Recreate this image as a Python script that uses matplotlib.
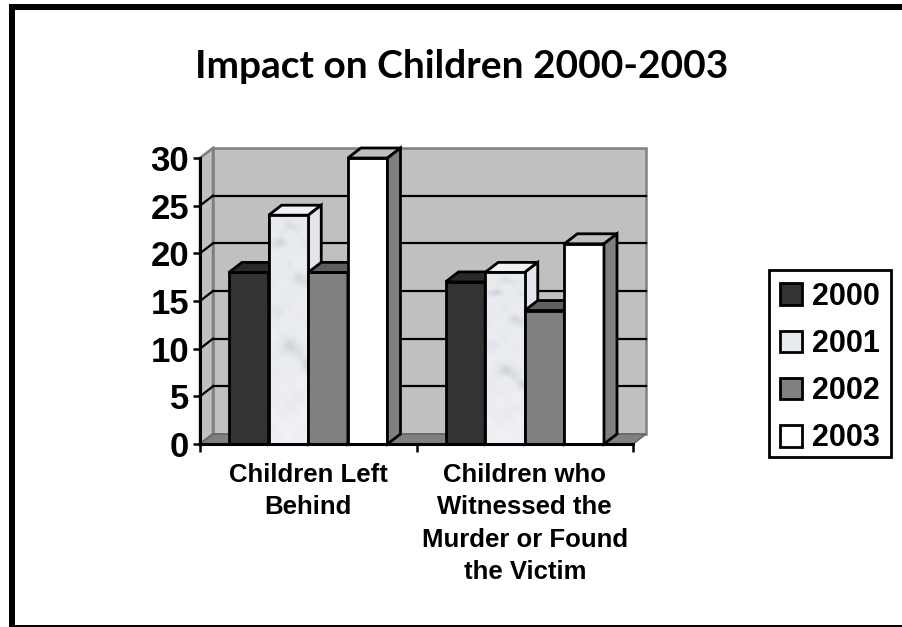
import matplotlib
matplotlib.use("Agg")
import matplotlib.pyplot as plt
from matplotlib.patches import Polygon, Rectangle, Patch
from matplotlib.colors import LinearSegmentedColormap
import numpy as np

# values
categories = ["Children Left\nBehind", "Children who\nWitnessed the\nMurder or Found\nthe Victim"]
years = ["2000", "2001", "2002", "2003"]
v2000 = [18, 17]
v2001 = [24, 18]
v2002 = [18, 14]
v2003 = [30, 21]
series = [v2000, v2001, v2002, v2003]
yticks = [0, 5, 10, 15, 20, 25, 30]

# front, top, side colours per series
fronts = ["#333333", "#E8EBEF", "#808080", "#FFFFFF"]
tops = ["#2A2A2A", "#F1F1F6", "#5F5F5F", "#C0C0C0"]
sides = ["#262626", "#E4E6EC", "#666666", "#808080"]

W, H = 902, 627
bar_w = 0.183
dx = 13 / 216.5   # depth of the fake 3d, in data units
dy = 10 / 9.53
EDGE = 2.0

plt.rcParams["font.family"] = ["Liberation Sans", "DejaVu Sans"]
plt.rcParams["font.weight"] = "bold"

fig = plt.figure(figsize=(W / 100, H / 100), dpi=100, facecolor="white")
ax = fig.add_axes([200 / W, (H - 444) / H, 433 / W, 286 / H])
ax.set_facecolor("none")

# page frame, open on the right
for x, y, w, h in [(9, 4, 6, 623), (9, 4, 893, 6), (9, 625, 893, 2)]:
    fig.add_artist(Rectangle((x / W, 1 - (y + h) / H), w / W, h / H, transform=fig.transFigure,
                             facecolor="black", edgecolor="none"))

x0, x1 = -0.5, 1.5
top = max(yticks)

# walls and floor
ax.add_patch(Polygon([(x0 + dx, dy), (x1 + dx, dy), (x1 + dx, top + dy), (x0 + dx, top + dy)],
                     facecolor="#C0C0C0", edgecolor="#808080", lw=1.8, zorder=1, clip_on=False))
ax.add_patch(Polygon([(x0, 0), (x0 + dx, dy), (x0 + dx, top + dy), (x0, top)],
                     facecolor="#C0C0C0", edgecolor="#808080", lw=1.8, zorder=1, clip_on=False))
ax.add_patch(Polygon([(x0, 0), (x1, 0), (x1 + dx, dy), (x0 + dx, dy)],
                     facecolor="#808080", edgecolor="#666666", lw=1.2, zorder=1, clip_on=False))
for v in yticks[1:-1]:
    ax.plot([x0 + dx, x1 + dx], [v + dy, v + dy], color="black", lw=1.6, zorder=2, clip_on=False)
    ax.plot([x0, x0 + dx], [v, v + dy], color="black", lw=1.6, zorder=2, clip_on=False)
ax.plot([x0, x0 + dx], [top, top + dy], color="#808080", lw=1.6, zorder=2, clip_on=False)

# soft mottled fill for the 2001 bars, a few grey clouds on a pale ground
marble = LinearSegmentedColormap.from_list("marble", ["#A8ACB2", "#D0D4D9", "#E7EAEE", "#F2F1F6"])
gy, gx = np.mgrid[0:1:200j, 0:1:40j]
mottle = 0.66 + 0.07 * np.sin(gx * 8 + 1) * np.sin(gy * 38) + 0.05 * np.sin(gx * 15) * np.sin(gy * 71 + 2)
mottle += 0.28 * gy
clouds = [(0.3, 0.12, 0.16, 0.02, 0.4), (0.75, 0.28, 0.3, 0.035, 0.25), (0.55, 0.58, 0.35, 0.05, 0.42),
          (0.95, 0.66, 0.2, 0.04, 0.4), (0.2, 0.42, 0.25, 0.04, 0.2), (0.5, 0.82, 0.35, 0.05, 0.18),
          (0.7, 0.05, 0.25, 0.02, 0.15), (0.1, 0.7, 0.2, 0.04, 0.2)]
for cx, cy, sx, sy, amp in clouds:
    mottle -= amp * np.exp(-((gx - cx) / sx) ** 2 - ((gy - cy) / sy) ** 2)
mottle = np.clip(mottle, 0, 1)

for i, vals in enumerate(series):
    xs = np.arange(len(categories)) - 2 * bar_w + (i + 0.5) * bar_w
    for k, (x, v) in enumerate(zip(xs, vals)):
        z = 3 + k * 10 + i
        left, right = x - bar_w / 2, x + bar_w / 2
        ax.bar(x, v, bar_w, color=fronts[i], edgecolor="black", lw=EDGE, zorder=z, clip_on=False)
        ax.add_patch(Polygon([(left, v), (right, v), (right + dx, v + dy), (left + dx, v + dy)],
                             facecolor=tops[i], edgecolor="black", lw=EDGE, zorder=z, clip_on=False))
        ax.add_patch(Polygon([(right, 0), (right + dx, dy), (right + dx, v + dy), (right, v)],
                             facecolor=sides[i], edgecolor="black", lw=EDGE, zorder=z, clip_on=False))
        if i == 1:
            ax.imshow(mottle, cmap=marble, vmin=0, vmax=1, extent=(left, right, 0, v), aspect="auto",
                      origin="upper", zorder=z + 0.1)
            ax.add_patch(Rectangle((left, 0), bar_w, v, facecolor="none", edgecolor="black",
                                   lw=EDGE, zorder=z + 0.2, clip_on=False))

ax.set_xlim(x0, x1)
ax.set_ylim(0, top)

ax.set_yticks(yticks)
ax.tick_params(axis="y", length=5, width=1.8, labelsize=25, pad=3)
ax.set_xticks([x0, 0.5, x1])
ax.set_xticklabels([])
ax.tick_params(axis="x", which="major", length=6, width=1.8)
ax.set_xticks([0, 1], minor=True)
ax.set_xticklabels(categories, minor=True, fontsize=18.5, linespacing=1.45, va="top")
ax.tick_params(axis="x", which="minor", length=0, pad=13.5)
ax.spines["top"].set_visible(False)
ax.spines["right"].set_visible(False)
for side in ["left", "bottom"]:
    ax.spines[side].set_linewidth(2.2)
    ax.spines[side].set_zorder(50)

fig.text(462 / W, 1 - 67 / H, "Impact on Children 2000-2003", ha="center", va="center",
         fontsize=28, fontweight="bold", family=["Lato", "DejaVu Sans"])

# legend box drawn apart, the built in frame comes out too tall
fig.add_artist(Rectangle((769 / W, 1 - 457 / H), 122 / W, 187 / H, transform=fig.transFigure,
                         facecolor="white", edgecolor="black", lw=EDGE))
handles = [Patch(facecolor=fronts[i], edgecolor="black", lw=EDGE) for i in range(len(years))]
leg = fig.legend(handles, years, loc="upper left", bbox_to_anchor=(769 / W, 1 - 271 / H),
                 bbox_transform=fig.transFigure, borderaxespad=0, fontsize=22, frameon=False,
                 handlelength=0.72, handleheight=0.72,
                 handletextpad=0.32, labelspacing=0.56, borderpad=0.36)

fig.savefig("out.png", dpi=100)
